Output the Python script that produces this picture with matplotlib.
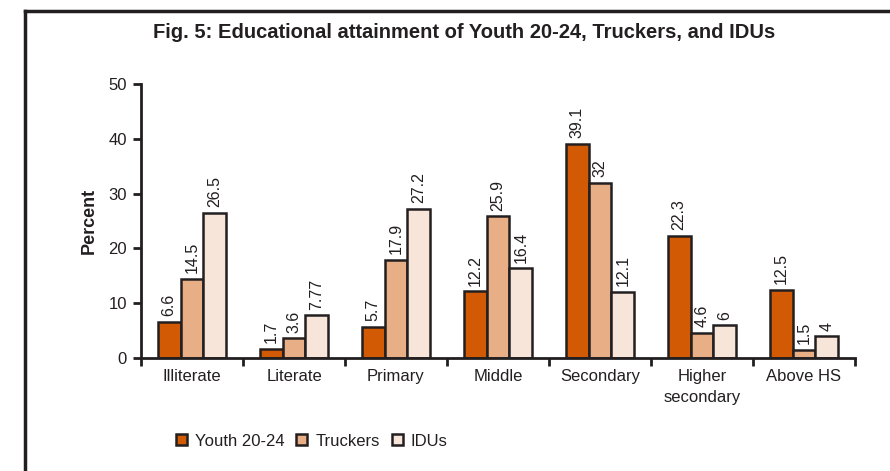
import numpy as np
import matplotlib.pyplot as plt
from matplotlib.patches import Patch
from matplotlib.lines import Line2D

categorias = ['Illiterate', 'Literate', 'Primary', 'Middle', 'Secondary', 'Higher\nsecondary', 'Above HS']
series = ['Youth 20-24', 'Truckers', 'IDUs']
youth = [6.6, 1.7, 5.7, 12.2, 39.1, 22.3, 12.5]
truckers = [14.5, 3.6, 17.9, 25.9, 32, 4.6, 1.5]
idus = [26.5, 7.77, 27.2, 16.4, 12.1, 6, 4]
rotulos = [['6.6', '1.7', '5.7', '12.2', '39.1', '22.3', '12.5'],
           ['14.5', '3.6', '17.9', '25.9', '32', '4.6', '1.5'],
           ['26.5', '7.77', '27.2', '16.4', '12.1', '6', '4']]
cores = ['#D35A05', '#E8AE86', '#F8E5DA']

plt.rcParams['font.family'] = ['Liberation Sans', 'DejaVu Sans']
texto = '#231F20'

fig = plt.figure(figsize=(8.9, 4.71), dpi=100)
ax = fig.add_axes([141/890, 1-358/471, (855-141)/890, (358-84)/471])

# moldura cortada (so esquerda e topo aparecem)
fig.add_artist(Line2D([25/890, 25/890], [0, 1-11/471], color='#231F20', lw=2.5, transform=fig.transFigure))
fig.add_artist(Line2D([25/890, 1], [1-11/471, 1-11/471], color='#231F20', lw=2.5, transform=fig.transFigure))

x = np.arange(len(categorias)) + 0.5
largura = 0.225
for i, (vals, cor) in enumerate(zip([youth, truckers, idus], cores)):
    pos = x + (i - 1) * largura
    ax.bar(pos, vals, width=largura, color=cor, edgecolor='#231F20', linewidth=1.8)
    for p, v, r in zip(pos, vals, rotulos[i]):
        ax.text(p, v + 1.0, r, rotation=90, ha='center', va='bottom', fontsize=11.5, color=texto)

ax.set_xlim(0, 7)
ax.set_ylim(0, 50)
ax.set_yticks([0, 10, 20, 30, 40, 50])
ax.set_xticks(np.arange(8))
ax.set_xticklabels([])
ax.set_xticks(x, minor=True)
ax.set_xticklabels(categorias, minor=True, fontsize=12, color=texto, linespacing=1.5)
ax.tick_params(axis='x', which='minor', length=0, pad=8)
ax.tick_params(axis='x', which='major', length=6, width=2, direction='out', color='#231F20')
ax.tick_params(axis='y', length=6, width=2, direction='out', color='#231F20', labelsize=12, labelcolor=texto, pad=4)
for s in ['top', 'right']:
    ax.spines[s].set_visible(False)
for s in ['left', 'bottom']:
    ax.spines[s].set_linewidth(2)
    ax.spines[s].set_color('#231F20')
ax.set_ylabel('Percent', fontsize=13, fontweight='bold', color=texto, labelpad=8)

fig.text(464/890, 1-32/471, 'Fig. 5: Educational attainment of Youth 20-24, Truckers, and IDUs',
         ha='center', va='center', fontsize=14.5, fontweight='bold', color=texto)

handles = [Patch(facecolor=c, edgecolor='#231F20', linewidth=1.8) for c in cores]
fig.legend(handles, series, loc='center left', bbox_to_anchor=(161/890, 1-441/471), ncol=3,
           frameon=False, handlelength=0.65, handleheight=0.65, handletextpad=0.5,
           columnspacing=0.7, fontsize=12, labelcolor=texto)

fig.savefig('out.png', dpi=100)
